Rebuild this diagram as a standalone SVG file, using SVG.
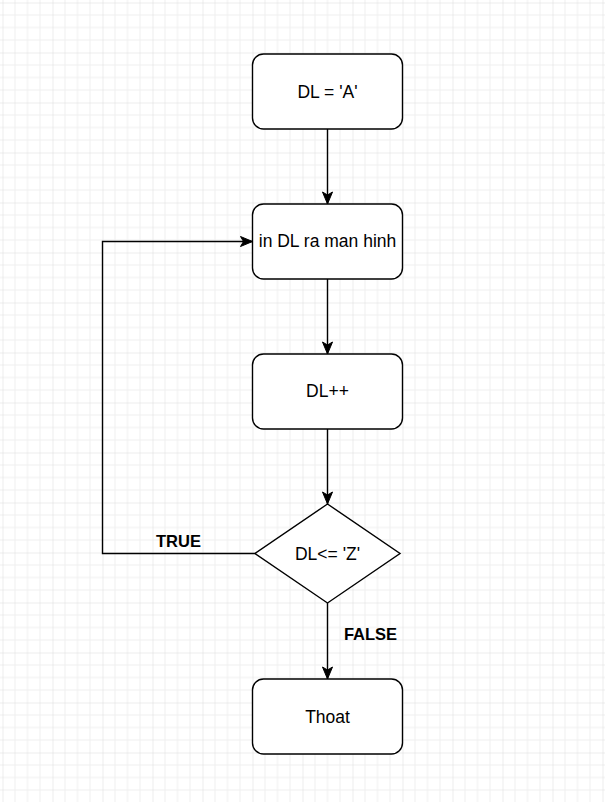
<svg xmlns="http://www.w3.org/2000/svg" width="605" height="802" viewBox="0 0 605 802">
  <defs>
    <pattern id="grid" x="2.5" y="2.5" width="50" height="50" patternUnits="userSpaceOnUse">
      <path d="M12.5 0V50M25 0V50M37.5 0V50M0 12.5H50M0 25H50M0 37.5H50" fill="none" stroke="#efefef" stroke-width="1"/>
      <path d="M0 0V50M0 0H50" fill="none" stroke="#d9d9d9" stroke-width="1"/>
    </pattern>
    <marker id="arrow" markerUnits="userSpaceOnUse" markerWidth="14" markerHeight="12" refX="12" refY="6" orient="auto" overflow="visible">
      <path d="M0 1 L12 6 L0 11 L3 6 Z" fill="#000" stroke="#000" stroke-width="1"/>
    </marker>
    <style>
      .node { fill: #fff; stroke: #000; stroke-width: 1.4; }
      .edge { fill: none; stroke: #000; stroke-width: 1.4; marker-end: url(#arrow); }
      .label { font-family: "Liberation Sans", Arial, sans-serif; font-size: 17.5px; fill: #000; text-anchor: middle; }
      .elabel { font-family: "Liberation Sans", Arial, sans-serif; font-size: 16.5px; font-weight: bold; fill: #000; text-anchor: middle; }
    </style>
  </defs>
  <rect x="0" y="0" width="605" height="802" fill="#fff"/>
  <rect x="0" y="0" width="605" height="802" fill="url(#grid)"/>

  <g id="connectors">
    <path class="edge" d="M327.5 129V204"/>
    <path class="edge" d="M327.5 279V354"/>
    <path class="edge" d="M327.5 429V504"/>
    <path class="edge" d="M327.5 603V679"/>
    <path class="edge" d="M255 553.5H102.5V241.5H252.5"/>
    <text class="elabel" x="178.5" y="546.5">TRUE</text>
    <text class="elabel" x="370.5" y="640">FALSE</text>
  </g>

  <g id="node-start">
    <rect class="node" x="252.5" y="54" width="150" height="75" rx="11" ry="11"/>
    <text class="label" x="327.5" y="97.5">DL = 'A'</text>
  </g>
  <g id="node-print">
    <rect class="node" x="252.5" y="204" width="150" height="75" rx="11" ry="11"/>
    <text class="label" x="327.5" y="247">in DL ra man hinh</text>
  </g>
  <g id="node-inc">
    <rect class="node" x="252.5" y="354" width="150" height="75" rx="11" ry="11"/>
    <text class="label" x="327.5" y="397">DL++</text>
  </g>
  <g id="node-cond">
    <polygon class="node" points="327.5,504 400,553.5 327.5,603 255,553.5"/>
    <text class="label" x="327.5" y="559.5">DL&lt;= 'Z'</text>
  </g>
  <g id="node-exit">
    <rect class="node" x="252.5" y="679" width="150" height="75" rx="11" ry="11"/>
    <text class="label" x="327.5" y="722.5">Thoat</text>
  </g>
</svg>
